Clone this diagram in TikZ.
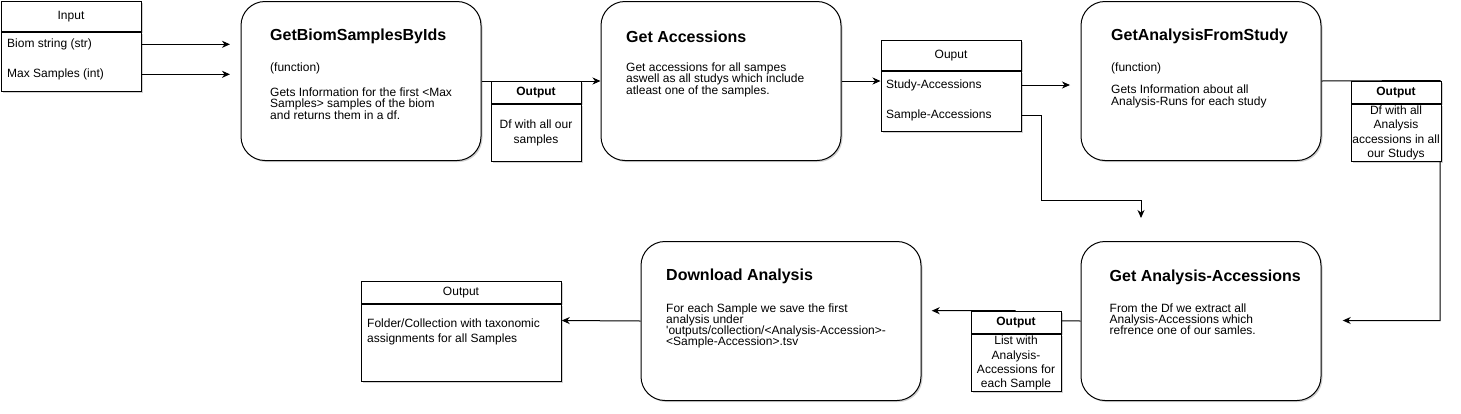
\documentclass[tikz,border=0pt]{standalone}
\usepackage{fontspec}
\setmainfont{Liberation Sans}
\usetikzlibrary{arrows.meta,shadows}
\newcommand\firstln{\rule{0pt}{10pt}}
\setlength{\lineskiplimit}{-20pt}
\setlength{\normallineskiplimit}{-20pt}
\begin{document}
\begin{tikzpicture}[x=1pt,y=-1pt,
  shad/.style={drop shadow={shadow xshift=1.5pt,shadow yshift=-1.5pt,opacity=0.18,fill=black}},
  fbox/.style={draw, line width=1pt, fill=white, rounded corners=24pt, anchor=north west, inner sep=0pt, minimum width=240pt, minimum height=159pt, shad},
  sbox/.style={draw, line width=1pt, fill=white, anchor=north west, inner sep=0pt, font=\fontsize{12}{14}\selectfont, shad},
  hb/.style={font=\fontsize{12}{14}\selectfont\bfseries},
  ttl/.style={font=\fontsize{16}{19}\selectfont\bfseries, anchor=west, inner sep=0pt},
  txt/.style={font=\fontsize{12}{14}\selectfont, anchor=west, inner sep=0pt},
  body/.style={font=\fontsize{12}{11.3}\selectfont, align=left, anchor=north west, inner sep=0pt},
  bodyw/.style={font=\fontsize{12}{14.3}\selectfont, align=left, anchor=north west, inner sep=0pt},
  obody/.style={font=\fontsize{12}{14.4}\selectfont, align=center},
  arr/.style={line width=1pt, -{Stealth[length=8pt,width=7pt,inset=2.5pt]}},
]
\useasboundingbox (0,0) rectangle (1461,413);

% Input
\node[sbox, minimum width=140pt, minimum height=30pt] (inph) at (0.5,1) {Input};
\node[sbox, minimum width=140pt, minimum height=59pt] (inpb) at (inph.south west) {};
\node[txt] (biomstr) at (7,44.3) {Biom string (str)};
\node[txt] (maxs) at (7,74.3) {Max Samples (int)};
\coordinate (a1) at (230,44.3);
\coordinate (a2) at (230,74.3);
\draw[arr] (inpb.east |- biomstr) -- (a1);
\draw[arr] (inpb.east |- maxs) -- (a2);

% GetBiomSamplesByIds
\node[fbox] (biom) at (240.5,1) {};
\node[ttl] (biomt) at (270,36.7) {GetBiomSamplesByIds};
\node[txt] (biomf) at (270,68.3) {(function)};
\node[body] (biomd) at (270,86.2) {\firstln Gets Information for the first <Max\\Samples> samples of the biom\\and returns them in a df.};

% Get Accessions
\node[fbox] (acc) at (600.5,1) {};
\node[ttl] (acct) at (626,36.7) {Get Accessions};
\node[body] (accd) at (626,61.2) {\firstln Get accessions for all sampes\\aswell as all studys which include\\atleast one of the samples.};
\draw[arr] (biom.east) -- (acc.west);

% Output 1
\node[sbox, hb, minimum width=90pt, minimum height=22.5pt] (o1h) at (490.5,80.5) {Output};
\node[sbox, obody, minimum width=90pt, minimum height=57pt] (o1b) at (o1h.south west) {Df with all our\\samples};

% Ouput
\node[sbox, minimum width=140pt, minimum height=30pt] (oph) at (880.5,40) {Ouput};
\node[sbox, minimum width=140pt, minimum height=60pt] (opb) at (oph.south west) {};
\node[txt] (study) at (886,85) {Study-Accessions};
\node[txt] (sample) at (886,115) {Sample-Accessions};
\draw[arr] (acc.east) -- (acc.east -| opb.west);

% GetAnalysisFromStudy
\node[fbox] (gafs) at (1080.5,1) {};
\node[ttl] (gafst) at (1111,36.7) {GetAnalysisFromStudy};
\node[txt] (gafsf) at (1111,68.3) {(function)};
\node[body] (gafsd) at (1111,83.5) {\firstln Gets Information about all\\Analysis-Runs for each study};
\coordinate (c1) at (1070,85);
\draw[arr] (opb.east |- study) -- (c1);
\coordinate (c2) at (1141,218);
\draw[arr] (opb.east |- sample) -- (1041,115) -- (1041,200) -| (c2);

% right loop
\coordinate (c5) at (1342.7,320.5);
\draw[arr] (gafs.east) -- (1440,80.5) -- (1440,320.5) -- (c5);
\node[sbox, hb, minimum width=90pt, minimum height=22.5pt] (o3h) at (1350.5,80.5) {Output};
\node[sbox, obody, minimum width=90pt, minimum height=57pt] (o3b) at (o3h.south west) {Df with all\\Analysis\\accessions in all\\our Studys};

% Get Analysis-Accessions
\node[fbox] (gaa) at (1080.5,241) {};
\node[ttl] (gaat) at (1109.5,277.3) {Get Analysis-Accessions};
\node[body] (gaad) at (1109.5,301.8) {\firstln From the Df we extract all\\Analysis-Accessions which\\refrence one of our samles.};

% Download Analysis
\node[fbox, minimum width=280pt] (dl) at (640.5,241) {};
\node[ttl] (dlt) at (666,276.7) {Download Analysis};
\node[body] (dld) at (666,301.8) {\firstln For each Sample we save the first\\analysis under\\\textquotesingle outputs/collection/<Analysis-Accession>-\\<Sample-Accession>.tsv};

\coordinate (c3) at (931.7,310.7);
\draw[arr] (gaa.west) -- (1015,320.5) -- (1015,310.7) -- (c3);
\node[sbox, hb, minimum width=90pt, minimum height=22.5pt] (o4h) at (970.5,310.7) {Output};
\node[sbox, obody, minimum width=90pt, minimum height=57pt] (o4b) at (o4h.south west) {List with\\Analysis-\\Accessions for\\each Sample};

% Final output
\coordinate (c4) at (561.7,320.5);
\draw[arr] (dl.west) -- (c4);
\node[sbox, minimum width=200pt, minimum height=22.6pt] (o5h) at (360.5,280.7) {Output};
\node[sbox, minimum width=200pt, minimum height=76.7pt] (o5b) at (o5h.south west) {};
\node[bodyw] (o5t) at (367,317.5) {\firstln Folder/Collection with taxonomic\\assignments for all Samples};
\end{tikzpicture}
\end{document}
